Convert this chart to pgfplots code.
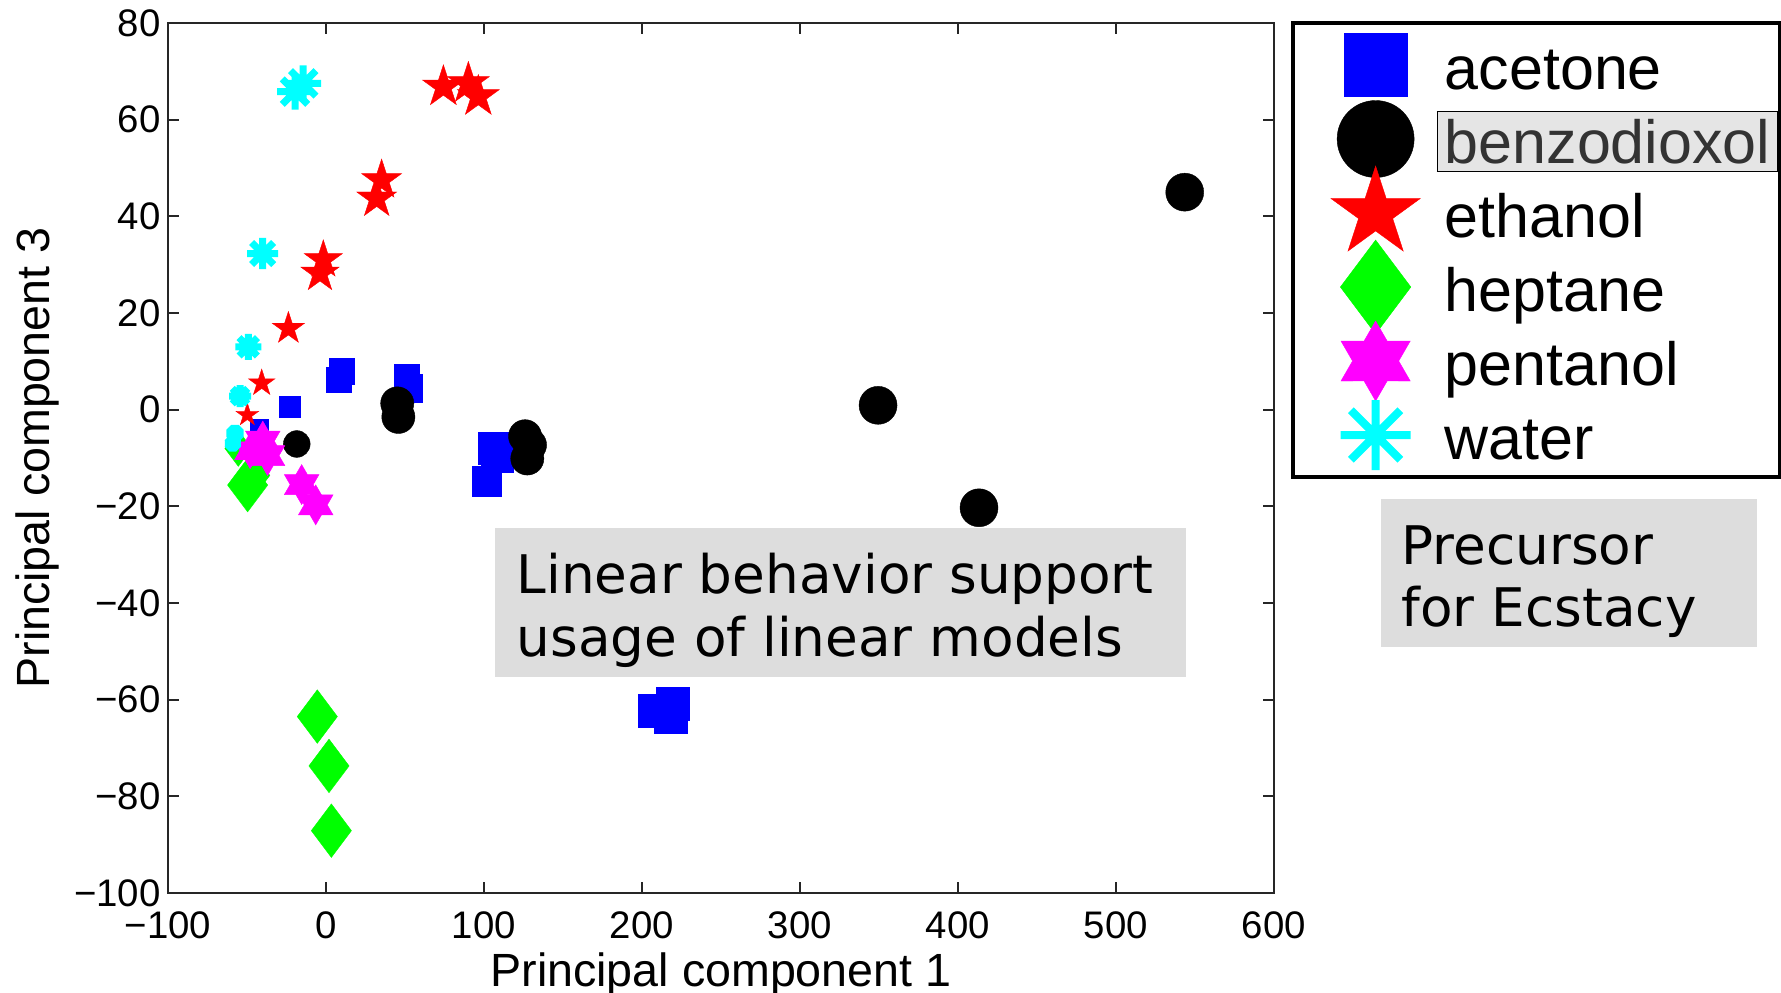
\documentclass[border=0pt]{standalone}
\usepackage{fontspec}
\setmainfont{Liberation Sans}
\newfontfamily\boxfont{DejaVu Sans}
\usepackage{pgfplots}
\pgfplotsset{compat=1.18}

\definecolor{acetone}{RGB}{0,0,255}
\definecolor{benzo}{RGB}{0,0,0}
\definecolor{ethanol}{RGB}{255,0,0}
\definecolor{heptane}{RGB}{0,255,0}
\definecolor{pentanol}{RGB}{255,0,255}
\definecolor{water}{RGB}{0,255,255}
\definecolor{boxgray}{RGB}{221,221,221}
\definecolor{hlgray}{RGB}{229,229,229}
\setlength{\fboxsep}{3.5pt}
\setlength{\fboxrule}{0.5pt}

% matlab style markers
\pgfdeclareplotmark{pstar}{%
  \pgfpathmoveto{\pgfqpointpolar{90}{\pgfplotmarksize}}%
  \pgfpathlineto{\pgfqpointpolar{126}{0.382\pgfplotmarksize}}%
  \pgfpathlineto{\pgfqpointpolar{162}{\pgfplotmarksize}}%
  \pgfpathlineto{\pgfqpointpolar{198}{0.382\pgfplotmarksize}}%
  \pgfpathlineto{\pgfqpointpolar{234}{\pgfplotmarksize}}%
  \pgfpathlineto{\pgfqpointpolar{270}{0.382\pgfplotmarksize}}%
  \pgfpathlineto{\pgfqpointpolar{306}{\pgfplotmarksize}}%
  \pgfpathlineto{\pgfqpointpolar{342}{0.382\pgfplotmarksize}}%
  \pgfpathlineto{\pgfqpointpolar{18}{\pgfplotmarksize}}%
  \pgfpathlineto{\pgfqpointpolar{54}{0.382\pgfplotmarksize}}%
  \pgfpathclose
  \pgfusepathqfillstroke
}
\pgfdeclareplotmark{hexa}{%
  \pgfpathmoveto{\pgfqpointpolar{90}{\pgfplotmarksize}}%
  \pgfpathlineto{\pgfqpointpolar{120}{0.577\pgfplotmarksize}}%
  \pgfpathlineto{\pgfqpointpolar{150}{\pgfplotmarksize}}%
  \pgfpathlineto{\pgfqpointpolar{180}{0.577\pgfplotmarksize}}%
  \pgfpathlineto{\pgfqpointpolar{210}{\pgfplotmarksize}}%
  \pgfpathlineto{\pgfqpointpolar{240}{0.577\pgfplotmarksize}}%
  \pgfpathlineto{\pgfqpointpolar{270}{\pgfplotmarksize}}%
  \pgfpathlineto{\pgfqpointpolar{300}{0.577\pgfplotmarksize}}%
  \pgfpathlineto{\pgfqpointpolar{330}{\pgfplotmarksize}}%
  \pgfpathlineto{\pgfqpointpolar{0}{0.577\pgfplotmarksize}}%
  \pgfpathlineto{\pgfqpointpolar{30}{\pgfplotmarksize}}%
  \pgfpathlineto{\pgfqpointpolar{60}{0.577\pgfplotmarksize}}%
  \pgfpathclose
  \pgfusepathqfillstroke
}
\pgfdeclareplotmark{ast8}{%
  \pgfpathmoveto{\pgfqpoint{-\pgfplotmarksize}{0pt}}%
  \pgfpathlineto{\pgfqpoint{\pgfplotmarksize}{0pt}}%
  \pgfpathmoveto{\pgfqpoint{0pt}{-\pgfplotmarksize}}%
  \pgfpathlineto{\pgfqpoint{0pt}{\pgfplotmarksize}}%
  \pgfpathmoveto{\pgfqpointpolar{45}{\pgfplotmarksize}}%
  \pgfpathlineto{\pgfqpointpolar{225}{\pgfplotmarksize}}%
  \pgfpathmoveto{\pgfqpointpolar{135}{\pgfplotmarksize}}%
  \pgfpathlineto{\pgfqpointpolar{315}{\pgfplotmarksize}}%
  \pgfusepathqstroke
}

% legend image: fixed cell, marker as overlay
\newcommand{\legmark}[3]{%
  \addlegendimage{legend image code/.code={%
    \path[draw=none, fill=none] (-41.3pt,-18.5pt) rectangle (34.6pt,18.5pt);
    \draw[overlay, only marks, mark=#1, mark size=#2, mark options={#3}] plot coordinates {(0pt,0pt)};}}}

\pgfplotsset{
  acet/.style={forget plot, only marks, mark=square*, mark size=#1,
    mark options={draw=acetone, fill=acetone, line width=0.2pt}},
  benz/.style={forget plot, only marks, mark=*, mark size=#1,
    mark options={draw=benzo, fill=benzo, line width=0.2pt}},
  etha/.style={forget plot, only marks, mark=pstar, mark size=#1,
    mark options={draw=ethanol, fill=ethanol, line width=0.2pt}},
  hept/.style={forget plot, only marks, mark=diamond*, mark size=#1,
    mark options={draw=heptane, fill=heptane, line width=0.2pt}},
  pent/.style={forget plot, only marks, mark=hexa, mark size=#1,
    mark options={draw=pentanol, fill=pentanol, line width=0.2pt}},
  watr/.style={forget plot, only marks, mark=ast8, mark size=#1,
    mark options={draw=water, line width=3.5pt}},
}

\begin{document}
\begin{tikzpicture}
\begin{axis}[
    at={(0,0)}, anchor=south west,
    scale only axis, width=553pt, height=435pt,
    xmin=-100, xmax=600, ymin=-100, ymax=80,
    xtick={-100,0,100,200,300,400,500,600},
    xticklabels={−100,0,100,200,300,400,500,600},
    ytick={-100,-80,-60,-40,-20,0,20,40,60,80},
    yticklabels={−100,−80,−60,−40,−20,0,20,40,60,80},
    tick align=inside, tick pos=both,
    major tick length=5.5pt,
    axis line style={line width=1.1pt, black!85},
    tick style={line width=1.1pt, black!85},
    tick label style={font=\fontsize{19.2}{23}\selectfont},
    yticklabel style={inner xsep=3.5pt},
    xticklabel style={inner ysep=9pt},
    xlabel={Principal component 1},
    ylabel={Principal component 3},
    label style={font=\fontsize{23.3}{28}\selectfont},
    xlabel style={at={(axis description cs:0.5,-0.1069)}, anchor=base, inner sep=0pt},
    ylabel style={at={(axis description cs:-0.1383,0.5)}, anchor=north, inner sep=0pt},
    clip=false,
    legend style={at={(axis description cs:1.0172,1)}, anchor=north west,
      draw=black, line width=1.6pt, fill=white, outer sep=0pt,
      inner xsep=0pt, inner ysep=2.5pt, column sep=0pt, row sep=0pt,
      font=\fontsize{30.5}{36}\selectfont,
      nodes={inner xsep=0pt, inner ysep=6.5pt, text height=24pt, text depth=0pt,
        text width=167.6pt, align=left, line width=0.4pt}},
]

% acetone
\addplot[acet=4.5pt] coordinates {(-42,-3.8)};
\addplot[acet=5.3pt] coordinates {(-23.2,0.6)};
\addplot[acet=6.4pt] coordinates {(10,8) (8,6.2) (51,6.8)};
\addplot[acet=7pt] coordinates {(52,4.5)};
\addplot[acet=7.3pt] coordinates {(101.9,-14.8)};
\addplot[acet=8.1pt] coordinates {(106.5,-8) (108.5,-9.5) (208,-62.3) (219.4,-60.8) (218.2,-63.5)};

% benzodioxol
\addplot[benz=6.7pt] coordinates {(-18.5,-7.1)};
\addplot[benz=8.3pt] coordinates {(45.1,1.3) (45.8,-1.5) (126,-5.5) (129.1,-7.3) (127.4,-10.1)};
\addplot[benz=9.5pt] coordinates {(349.4,0.9) (413.3,-20.3) (543.5,45)};

% ethanol
\addplot[etha=11pt] coordinates {(74.3,66.8) (90.1,67.5) (96.4,64.8)};
\addplot[etha=10.5pt] coordinates {(35.2,47.5) (32.1,43.7)};
\addplot[etha=10pt] coordinates {(-1.7,31) (-3.8,28.2)};
\addplot[etha=8.5pt] coordinates {(-23.8,16.8)};
\addplot[etha=7pt] coordinates {(-40.7,5.5)};
\addplot[etha=6pt] coordinates {(-49.8,-1.1)};

% heptane
\addplot[hept=9pt] coordinates {(-55.5,-8)};
\addplot[hept=11pt] coordinates {(-46,-13.6)};
\addplot[hept=13.4pt] coordinates {(-49.6,-15.6) (-5.5,-63.5) (1.9,-73.7) (3.4,-87.1)};

% pentanol
\addplot[pent=9pt] coordinates {(-48,-8.5)};
\addplot[pent=10pt] coordinates {(-40,-6.5) (-37,-9.5) (-15.4,-15.5) (-6.5,-19.7)};

% water
\addplot[watr=9pt] coordinates {(-19.6,65.8) (-14.4,67.5)};
\addplot[watr=7.8pt] coordinates {(-40.1,32.3)};
\addplot[watr=6.5pt] coordinates {(-49.2,13)};
\addplot[watr=5.5pt] coordinates {(-54.4,2.8)};
\addplot[watr=4.3pt] coordinates {(-57.6,-4.9)};
\addplot[watr=4pt] coordinates {(-59,-7)};

\legmark{square*}{15.75pt}{draw=acetone, fill=acetone, line width=0.2pt}
\addlegendentry{acetone}
\legmark{*}{19.25pt}{draw=benzo, fill=benzo, line width=0.2pt}
\addlegendentry{\hspace*{-4pt}\fcolorbox{black}{hlgray}{\color{black!80}benzodioxol}}
\legmark{pstar}{23.5pt}{draw=ethanol, fill=ethanol, line width=0.2pt}
\addlegendentry{ethanol}
\legmark{diamond*}{23.5pt}{draw=heptane, fill=heptane, line width=0.2pt}
\addlegendentry{heptane}
\legmark{hexa}{20pt}{draw=pentanol, fill=pentanol, line width=0.2pt}
\addlegendentry{pentanol}
\legmark{ast8}{17.5pt}{draw=water, line width=4pt}
\addlegendentry{water}

% annotation boxes
\fill[boxgray] (axis description cs:0.2958,0.4193) rectangle (axis description cs:0.9203,0.2483);
\node[anchor=base west, inner sep=0pt, font=\boxfont\fontsize{26.6}{31}\selectfont]
  at (axis description cs:0.3149,0.3448) {Linear behavior support};
\node[anchor=base west, inner sep=0pt, font=\boxfont\fontsize{26.6}{31}\selectfont]
  at (axis description cs:0.3149,0.2718) {usage of linear models};
\fill[boxgray] (axis description cs:1.0965,0.4525) rectangle (axis description cs:1.4364,0.2824);
\node[anchor=base west, inner sep=0pt, font=\boxfont\fontsize{26.6}{31}\selectfont]
  at (axis description cs:1.1151,0.3775) {Precursor};
\node[anchor=base west, inner sep=0pt, font=\boxfont\fontsize{26.6}{31}\selectfont]
  at (axis description cs:1.1151,0.3069) {for Ecstacy};
\end{axis}
\pgfresetboundingbox
\path[use as bounding box] (-84pt,-49.5pt) rectangle (806.5pt,446.5pt);
\end{tikzpicture}
\end{document}
